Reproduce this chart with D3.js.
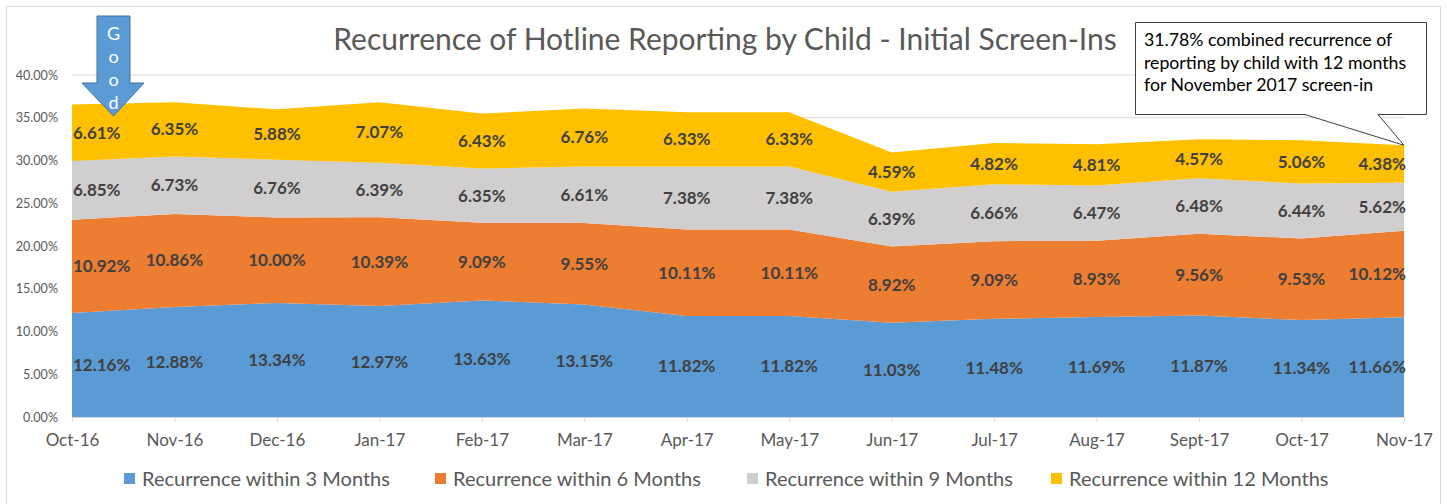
<!DOCTYPE html>
<html><head><meta charset="utf-8">
<script src="https://cdn.jsdelivr.net/npm/d3@7"></script>
<style>body{margin:0;background:#fff}svg{display:block}</style>
</head><body>
<svg id="c" width="1447" height="504"></svg>
<script>
const months = ["Oct-16","Nov-16","Dec-16","Jan-17","Feb-17","Mar-17","Apr-17","May-17","Jun-17","Jul-17","Aug-17","Sept-17","Oct-17","Nov-17"];
const within3 = [12.16,12.88,13.34,12.97,13.63,13.15,11.82,11.82,11.03,11.48,11.69,11.87,11.34,11.66];
const within6 = [10.92,10.86,10.00,10.39,9.09,9.55,10.11,10.11,8.92,9.09,8.93,9.56,9.53,10.12];
const within9 = [6.85,6.73,6.76,6.39,6.35,6.61,7.38,7.38,6.39,6.66,6.47,6.48,6.44,5.62];
const within12 = [6.61,6.35,5.88,7.07,6.43,6.76,6.33,6.33,4.59,4.82,4.81,4.57,5.06,4.38];
const seriesNames = ["Recurrence within 3 Months","Recurrence within 6 Months","Recurrence within 9 Months","Recurrence within 12 Months"];
const colors = ["#5B9BD5","#ED7D31","#D0CECE","#FFC000"];
const yTicks = [0,5,10,15,20,25,30,35,40];
const title = "Recurrence of Hotline Reporting by Child - Initial Screen-Ins";
const calloutLines = ["31.78% combined recurrence of","reporting by child with 12 months","for November 2017 screen-in"];

const svg = d3.select("#c");
const font = "Lato, 'Open Sans', sans-serif";

// chart border
svg.append("rect").attr("x",6.5).attr("y",6.5).attr("width",1434).attr("height",510).attr("fill","#fff").attr("stroke","#d9d9d9");

const x = d3.scalePoint().domain(months).range([72,1404]);
const y = d3.scaleLinear().domain([0,40]).range([417,75]);

// gridlines
svg.append("g").selectAll("line").data(yTicks.filter(d=>d>0)).join("line")
  .attr("x1",72).attr("x2",1404).attr("y1",d=>y(d)).attr("y2",d=>y(d))
  .attr("stroke","#d9d9d9").attr("stroke-width",1);

const rows = months.map((m,i)=>({m, s0:within3[i], s1:within6[i], s2:within9[i], s3:within12[i]}));
const stack = d3.stack().keys(["s0","s1","s2","s3"])(rows);

const area = d3.area().x(d=>x(d.data.m)).y0(d=>y(d[0])).y1(d=>y(d[1]));
svg.append("g").selectAll("path").data(stack).join("path")
  .attr("d",area).attr("fill",(d,i)=>colors[i]);

// axes
const yAxis = svg.append("g").attr("transform","translate(72,0)")
  .call(d3.axisLeft(y).tickValues(yTicks).tickFormat(d=>d.toFixed(2)+"%").tickSize(0).tickPadding(14));
yAxis.select(".domain").remove();
yAxis.selectAll("text").attr("fill","#595959").style("font-family",font).style("font-size","12.6px");

const xAxis = svg.append("g").attr("transform","translate(0,417)")
  .call(d3.axisBottom(x).tickSize(5).tickPadding(12));
xAxis.select(".domain").attr("stroke","#d9d9d9");
xAxis.selectAll("line").attr("stroke","#d9d9d9");
xAxis.selectAll("text").attr("fill","#595959").style("font-family",font).style("font-size","17px");

// data labels
const lbl = svg.append("g").style("font-family",font).style("font-size","17px").style("font-weight","bold").attr("fill","#404040");
stack.forEach((layer,li)=>{
  layer.forEach((d,i)=>{
    const v = d[1]-d[0];
    let xp = x(d.data.m);
    let anchor = "middle";
    if(i===0){ xp = x(d.data.m)+1; anchor="start"; }
    if(i===months.length-1){ xp = x(d.data.m)+2; anchor="end"; }
    lbl.append("text").attr("x",xp).attr("y",y((d[0]+d[1])/2)).attr("dy","0.35em")
      .attr("text-anchor",anchor).text(v.toFixed(2)+"%");
  });
});

// title
svg.append("text").attr("x",725).attr("y",50).attr("text-anchor","middle")
  .style("font-family",font).style("font-size","30px").attr("fill","#595959").text(title);

// legend
const legX = [124,435,747,1051];
const lg = svg.append("g");
seriesNames.forEach((n,i)=>{
  lg.append("rect").attr("x",legX[i]).attr("y",473).attr("width",11).attr("height",11).attr("fill",colors[i]);
  lg.append("text").attr("x",legX[i]+18).attr("y",479).attr("dy","0.35em")
    .style("font-family",font).style("font-size","20px").attr("fill","#595959").text(n);
});

// callout
const tipX = x("Nov-17"), tipY = y(within3[13]+within6[13]+within9[13]+within12[13]);
const bx=1135.5, by=22.5, bw=291, bh=92;
svg.append("path").attr("d",`M${bx},${by} H${bx+bw} V${by+bh} H1378 L${tipX},${tipY} L1305,${by+bh} H${bx} Z`)
  .attr("fill","#fff").attr("stroke","#404040").attr("stroke-width",1);
calloutLines.forEach((t,i)=>{
  svg.append("text").attr("x",1144).attr("y",46+i*22.5)
    .style("font-family",font).style("font-size","17.7px").attr("fill","#000").text(t);
});

// "Good" arrow
svg.append("path").attr("d","M97,16 H130 V83 H144 L113.5,116 L82,83 H97 Z")
  .attr("fill","#5B9BD5").attr("stroke","#41719C").attr("stroke-width",1);
["G","o","o","d"].forEach((c,i)=>{
  svg.append("text").attr("x",113.5).attr("y",40+i*23).attr("text-anchor","middle")
    .style("font-family",font).style("font-size","18px").attr("fill","#fff").text(c);
});
</script>
</body></html>
